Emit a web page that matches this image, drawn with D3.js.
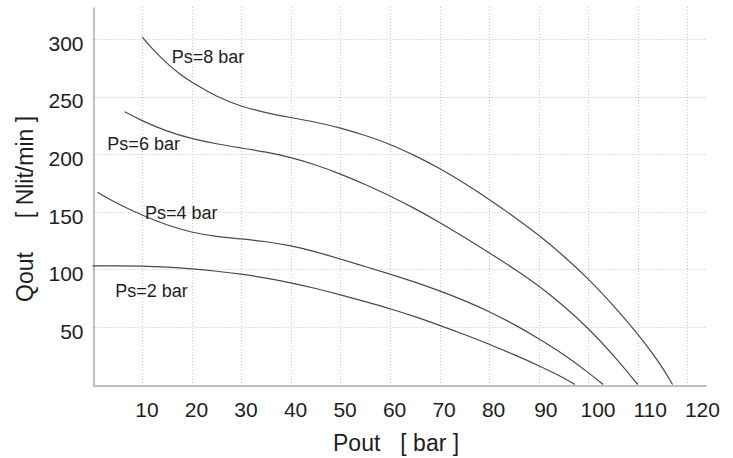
<!DOCTYPE html>
<html>
<head>
<meta charset="utf-8">
<script src="https://cdn.jsdelivr.net/npm/d3@7"></script>
<style>
  html, body { margin: 0; padding: 0; background: #fff; }
  svg { display: block; }
  text { font-family: "Liberation Sans", Arial, sans-serif; fill: #1e1e1e; }
</style>
</head>
<body>
<svg id="chart" width="733" height="458"></svg>
<script>
// Outlet flow vs. outlet pressure for several supply pressures
const xTicks = [10, 20, 30, 40, 50, 60, 70, 80, 90, 100, 110, 120];
const yTicks = [50, 100, 150, 200, 250, 300];

const seriesNames = ["Ps=8 bar", "Ps=6 bar", "Ps=4 bar", "Ps=2 bar"];

// [Pout bar, Qout Nl/min]
const ps8 = [[10,302],[12.5,289.5],[15,279],[17.5,270],[20,262.5],[25,250],[30,241.5],[35,236],
  [40,232],[45,228],[50,223],[55,216.5],[60,209],[65,199],[70,188],[75,175],[80,161],[85,146],
  [90,130],[95,112],[100,92],[105,69],[110,44],[113,27],[115,14.5],[117,0]];
const ps6 = [[6.5,237],[10,229],[15,220],[20,213.5],[25,209],[30,205.5],[35,202],[40,197.5],
  [45,191],[50,183],[55,174],[60,164],[65,153],[70,141],[75,128],[80,114.5],[85,100.8],[90,86],
  [95,68.5],[100,49],[105,26],[110,0]];
const ps4 = [[1,167],[5,157],[10,147],[15,138.5],[20,132],[25,128.5],[30,126.5],[35,124.2],
  [40,120.8],[45,115.5],[50,109],[55,102.5],[60,96],[65,89],[70,81.5],[75,73],[80,63.5],
  [85,52.5],[90,40],[95,26.5],[100,10.5],[103,0]];
const ps2 = [[0,103],[5,103],[10,103],[15,102],[20,100.5],[25,98.5],[30,96],[35,92.5],[40,88.5],
  [45,83.5],[50,78],[55,72],[60,66],[65,59],[70,51.5],[75,43.5],[80,35],[85,26],[90,16.5],
  [95,6],[97.3,0]];

const series = [ps8, ps6, ps4, ps2];
// where each curve name sits, in data units (left edge, baseline)
const labelAt = [[16, 279], [3, 204], [10.6, 144], [4.6, 76]];

const svg = d3.select("#chart");
const plotLeft = 92.5, plotRight = 706, plotTop = 7, plotBottom = 384.5;

const x = d3.scaleLinear().domain([0, 123.75]).range([plotLeft, plotRight]);
const y = d3.scaleLinear().domain([0, 328]).range([plotBottom, plotTop]);

// dotted grid
const grid = svg.append("g")
  .attr("stroke", "#c4c4c4").attr("stroke-width", 1).attr("stroke-dasharray", "1,2");
grid.selectAll("line.v").data(xTicks).join("line").attr("class", "v")
  .attr("x1", d => Math.round(x(d)) + 0.5).attr("x2", d => Math.round(x(d)) + 0.5)
  .attr("y1", plotTop).attr("y2", plotBottom);
grid.selectAll("line.h").data(yTicks).join("line").attr("class", "h")
  .attr("x1", plotLeft).attr("x2", plotRight)
  .attr("y1", d => Math.round(y(d)) + 0.5).attr("y2", d => Math.round(y(d)) + 0.5);

// axes
const xAxis = svg.append("g")
  .attr("transform", `translate(0,${Math.round(plotBottom) + 0.5})`)
  .call(d3.axisBottom(x).tickValues(xTicks).tickSize(0).tickPadding(15));
const yAxis = svg.append("g")
  .attr("transform", `translate(${Math.round(plotLeft) + 0.5},0)`)
  .call(d3.axisLeft(y).tickValues(yTicks).tickSize(0).tickPadding(10));

[xAxis, yAxis].forEach(g => {
  g.select(".domain").attr("stroke", "#808080").attr("stroke-width", 1);
  g.selectAll("text").attr("font-family", "Liberation Sans, Arial, sans-serif")
    .attr("font-size", 21).attr("fill", "#1e1e1e");
});
// the wider three-digit labels drift a little to the right
const labelShift = d3.scaleLinear().domain([0, 80, 120]).range([4.5, 4, 14.5]);
xAxis.selectAll(".tick text").attr("dx", d => labelShift(d)).attr("dy", "0.78em");
yAxis.selectAll(".tick text").attr("dy", "0.53em");

// curves (B-spline through the sampled points keeps them smooth)
const line = d3.line().x(d => x(d[0])).y(d => y(d[1])).curve(d3.curveBasis);
svg.append("g").selectAll("path").data(series).join("path")
  .attr("d", line).attr("fill", "none")
  .attr("stroke", "#4a4a4a").attr("stroke-width", 1.2);

// curve names
svg.append("g").selectAll("text").data(seriesNames).join("text")
  .attr("x", (d, i) => x(labelAt[i][0]))
  .attr("y", (d, i) => y(labelAt[i][1]))
  .attr("font-size", 18)
  .text(d => d);

// axis titles
const xt = svg.append("text").attr("x", 333).attr("y", 451).attr("font-size", 23);
xt.append("tspan").text("Pout");
xt.append("tspan").attr("dx", 20).text("[ bar ]");

const yt = svg.append("text").attr("transform", "translate(33,302) rotate(-90)")
  .attr("font-size", 23);
yt.append("tspan").text("Qout");
yt.append("tspan").attr("dx", 34).text("[ Nlit/min ]");
</script>
</body>
</html>
